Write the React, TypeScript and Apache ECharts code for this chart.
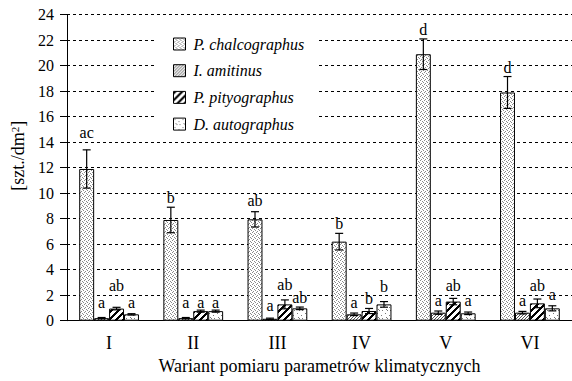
import React, { useEffect, useRef } from "react";
import * as echarts from "echarts";

const categories = ["I", "II", "III", "IV", "V", "VI"];
const seriesNames = ["P. chalcographus", "I. amitinus", "P. pityographus", "D. autographus"];

const chalcographus = [11.9, 7.9, 7.95, 6.2, 20.9, 17.9];
const chalcographusErr = [1.5, 1.0, 0.6, 0.65, 1.2, 1.25];
const amitinus = [0.2, 0.2, 0.15, 0.5, 0.63, 0.63];
const amitinusErr = [0.05, 0.05, 0.05, 0.1, 0.13, 0.1];
const pityographus = [0.95, 0.75, 1.28, 0.76, 1.5, 1.36];
const pityographusErr = [0.1, 0.08, 0.35, 0.2, 0.25, 0.34];
const autographus = [0.5, 0.75, 0.97, 1.28, 0.58, 0.97];
const autographusErr = [0.05, 0.08, 0.1, 0.22, 0.1, 0.2];

const chalcographusLetters = ["ac", "b", "ab", "b", "d", "d"];
const amitinusLetters = ["a", "a", "a", "a", "a", "a"];
const pityographusLetters = ["ab", "a", "ab", "b", "ab", "ab"];
const autographusLetters = ["a", "a", "ab", "b", "a", "a"];

const yTicks = { min: 0, max: 24, interval: 2 };

// style: pixel gap between error-bar top and letter baseline
const letterGapPx = [
  [12, 4.5, 6, 4.5, 4, 4],
  [10, 10, 7, 5, 5, 5],
  [16, 2, 10, 5, 7, 8],
  [6, 2, 4, 9.5, 6, 5.7],
];

const FONT = "Liberation Serif";

function makePattern(size: number, draw: (ctx: CanvasRenderingContext2D) => void) {
  const c = document.createElement("canvas");
  c.width = size;
  c.height = size;
  const ctx = c.getContext("2d")!;
  ctx.fillStyle = "#fff";
  ctx.fillRect(0, 0, size, size);
  draw(ctx);
  return { image: c, repeat: "repeat" } as any;
}

function dots(pts: number[][], color: string) {
  return (ctx: CanvasRenderingContext2D) => {
    ctx.fillStyle = color;
    pts.forEach(([x, y]) => ctx.fillRect(x, y, 1, 1));
  };
}

export default function App() {
  const ref = useRef<HTMLDivElement>(null);
  useEffect(() => {
    if (!ref.current) return;
    const chart = echarts.init(ref.current, undefined, { renderer: "svg" });

    const patterns = [
      makePattern(4, dots([[0, 0], [2, 1], [1, 3], [3, 2]], "#8a8a8a")),
      makePattern(3, dots([[0, 0], [2, 1], [1, 2]], "#555")),
      makePattern(7, (ctx) => {
        ctx.fillStyle = "#000";
        for (let x = 0; x < 7; x++)
          for (let y = 0; y < 7; y++) if ((x + y) % 7 < 3) ctx.fillRect(x, y, 1, 1);
      }),
      makePattern(8, dots([[1, 1], [5, 3], [2, 5], [6, 6], [3, 6]], "#777")),
    ];

    const values = [chalcographus, amitinus, pityographus, autographus];
    const errs = [chalcographusErr, amitinusErr, pityographusErr, autographusErr];
    const letters = [chalcographusLetters, amitinusLetters, pityographusLetters, autographusLetters];

    const errData: number[][] = [];
    const errLetters: string[] = [];
    const errGaps: number[] = [];
    values.forEach((vals, s) =>
      vals.forEach((v, c) => {
        errData.push([c, v, errs[s][c], s]);
        errLetters.push(letters[s][c]);
        errGaps.push(letterGapPx[s][c]);
      })
    );

    const barSeries = seriesNames.map((name, s) => ({
      name,
      type: "bar",
      data: values[s],
      barGap: "0%",
      barCategoryGap: "29%",
      itemStyle: { color: patterns[s], borderColor: "#000", borderWidth: 1 },
      emphasis: { disabled: true },
    }));

    const errSeries = {
      name: "err",
      type: "custom",
      z: 5,
      encode: { x: 0, y: 1 },
      data: errData,
      renderItem: (params: any, api: any) => {
        const cat = api.value(0);
        const v = api.value(1);
        const e = api.value(2);
        const s = api.value(3);
        const catW = api.size([1, 0])[0];
        const bw = (catW * 0.71) / 4;
        const x = api.coord([cat, v])[0] + (s - 1.5) * bw;
        const top = api.coord([cat, v + e])[1];
        const bot = api.coord([cat, Math.max(0, v - e)])[1];
        const k = params.dataIndex;
        const ls = { stroke: "#000", lineWidth: 1.2 };
        const cap = 4;
        return {
          type: "group",
          children: [
            { type: "line", shape: { x1: x, y1: top, x2: x, y2: bot }, style: ls },
            { type: "line", shape: { x1: x - cap, y1: top, x2: x + cap, y2: top }, style: ls },
            { type: "line", shape: { x1: x - cap, y1: bot, x2: x + cap, y2: bot }, style: ls },
            {
              type: "text",
              style: {
                text: errLetters[k],
                x,
                y: top - errGaps[k] + 2.6,
                align: "center",
                verticalAlign: "bottom",
                fill: "#000",
                fontFamily: FONT,
                fontSize: 16,
              },
            },
          ],
        };
      },
    };

    chart.setOption({
      animation: false,
      backgroundColor: "#fff",
      textStyle: { fontFamily: FONT },
      grid: { left: 67, right: -3, top: 14.7, bottom: 60.3 },
      legend: {
        data: seriesNames,
        orient: "vertical",
        left: 156,
        top: 30,
        icon: "rect",
        itemWidth: 12,
        itemHeight: 12,
        itemGap: 10.7,
        padding: [6, 14, 2, 17],
        backgroundColor: "#fff",
        selectedMode: false,
        itemStyle: { borderColor: "#000", borderWidth: 1 },
        textStyle: {
          fontFamily: FONT,
          fontStyle: "italic",
          fontSize: 16,
          lineHeight: 16,
          color: "#000",
          padding: [0, 0, 0, 3],
        },
      },
      xAxis: {
        type: "category",
        data: categories,
        axisLine: { lineStyle: { color: "#000", width: 1 } },
        axisTick: { length: 6, lineStyle: { color: "#000" } },
        axisLabel: { color: "#000", fontFamily: FONT, fontSize: 18, margin: 13 },
        name: "Wariant pomiaru parametrów klimatycznych",
        nameLocation: "middle",
        nameGap: 36,
        nameTextStyle: { color: "#000", fontFamily: FONT, fontSize: 18 },
      },
      yAxis: {
        type: "value",
        min: yTicks.min,
        max: yTicks.max,
        interval: yTicks.interval,
        axisLine: { show: true, lineStyle: { color: "#000", width: 1 } },
        axisTick: { show: true, length: 7, lineStyle: { color: "#000" } },
        axisLabel: { color: "#000", fontFamily: FONT, fontSize: 16, margin: 13 },
        splitLine: { show: true, lineStyle: { color: "#000", width: 1, type: [3, 3] } },
        name: "[szt./dm{sup|2}]",
        nameLocation: "middle",
        nameRotate: 90,
        nameGap: 39,
        nameTextStyle: {
          color: "#000",
          fontFamily: FONT,
          fontSize: 18,
          padding: [0, 0, 0, 24],
          rich: {
            sup: { fontFamily: FONT, fontSize: 11, verticalAlign: "top", color: "#000" },
          },
        },
      },
      series: [...barSeries, errSeries],
    } as any);

    return () => chart.dispose();
  }, []);

  return (
    <div
      ref={ref}
      style={{ position: "absolute", left: 0, top: 0, width: 572, height: 381, background: "#fff" }}
    />
  );
}
